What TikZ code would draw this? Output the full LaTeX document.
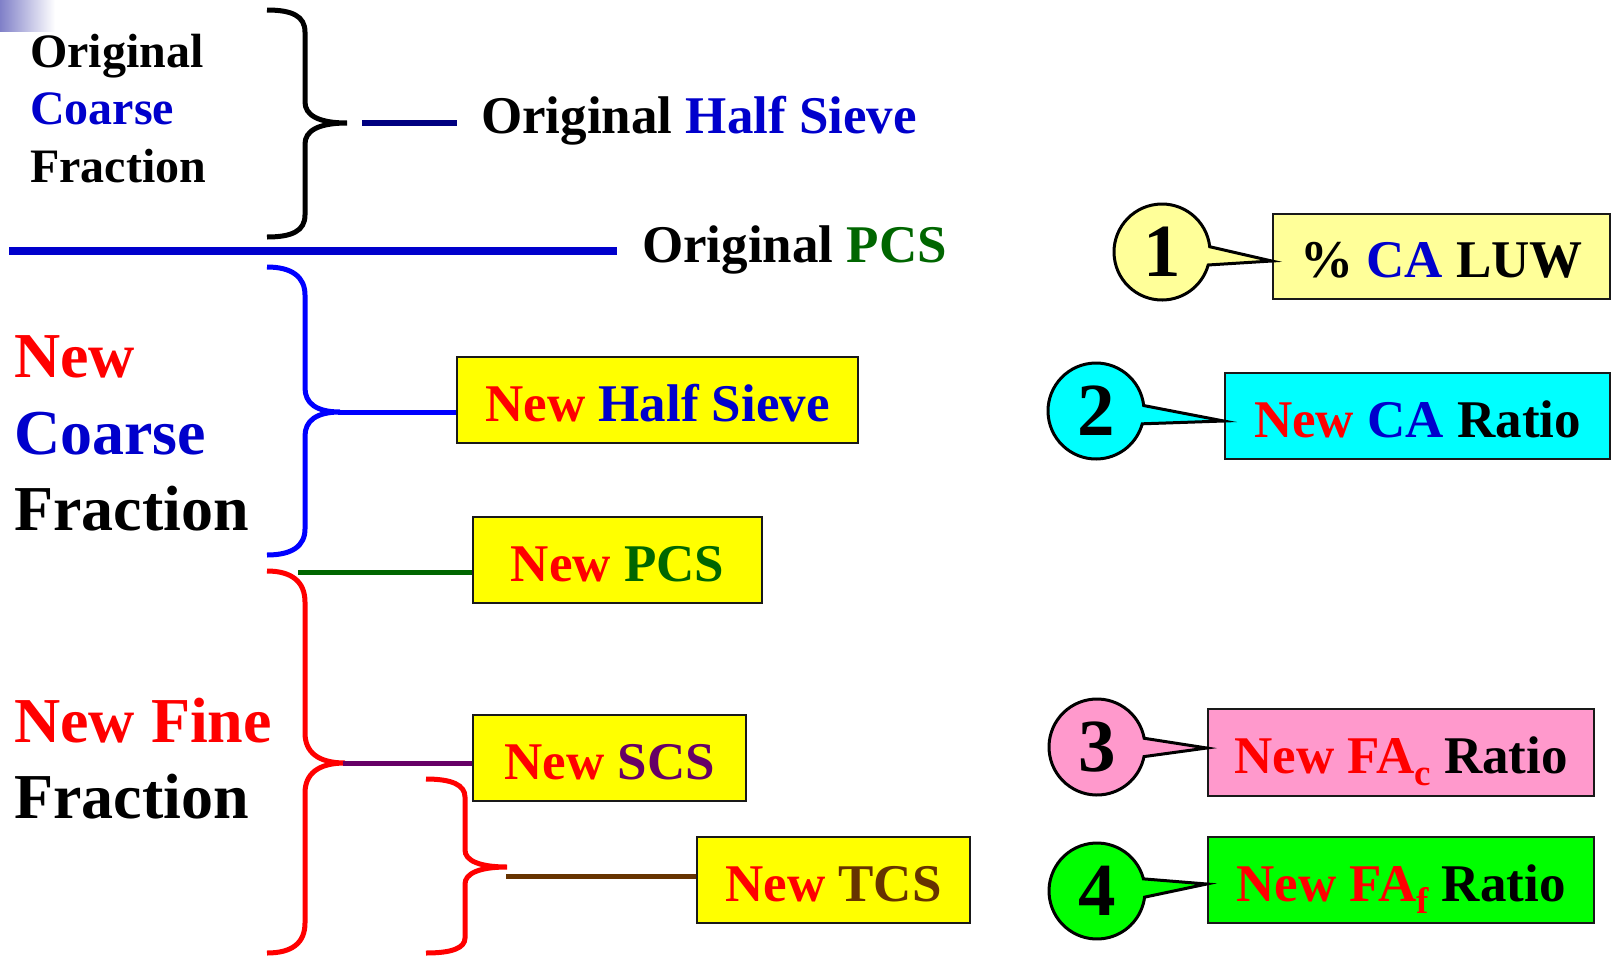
\documentclass[tikz,border=0pt]{standalone}
\usepackage{fontspec}
\setmainfont{Liberation Serif}
\usetikzlibrary{shapes.callouts,calc}
\definecolor{tblue}{HTML}{0000CC}
\definecolor{bblue}{HTML}{0000FF}
\definecolor{navy}{HTML}{000080}
\definecolor{dgreen}{HTML}{006600}
\definecolor{purp}{HTML}{660066}
\definecolor{brn}{HTML}{663300}
\definecolor{ylw}{HTML}{FFFF00}
\definecolor{lylw}{HTML}{FFFF99}
\definecolor{cyn}{HTML}{00FFFF}
\definecolor{pnk}{HTML}{FF99CC}
\definecolor{grn}{HTML}{00FF00}
\definecolor{redd}{HTML}{FF0000}
\newcommand\myfs[1]{\fontsize{#1}{#1}\selectfont\bfseries}
\tikzset{
  box/.style={draw=black!90, line width=2.5pt, fill=ylw, inner sep=0pt,
    text height=42pt, text depth=0pt, font=\myfs{53}, anchor=center,
    minimum height=86pt},
  bubble/.style={ellipse callout, draw=black, line width=3pt, inner sep=0pt,
    minimum size=96pt, callout pointer arc=22, font=\myfs{75}},
  lbl/.style={anchor=base west, inner sep=0pt},
  brace/.style={line width=5pt},
  link/.style={line width=5pt},
}
\begin{document}
\begin{tikzpicture}[x=1pt,y=-1pt]
\useasboundingbox (0,0) rectangle (1615,956);
% corner decoration
\shade[left color={rgb,255:red,128;green,128;blue,200}, right color=white] (0,0) rectangle (55,31);

% ---- top-left labels
\node[lbl, font=\myfs{48}] (o1) at (30,67) {Original};
\node[lbl, font=\myfs{48}, text=tblue] (o2) at (30,124) {Coarse};
\node[lbl, font=\myfs{48}] (o3) at (30,182) {Fraction};
\node[lbl, font=\myfs{53}] (ohs) at (481,133) {Original \textcolor{tblue}{Half Sieve}};
\node[lbl, font=\myfs{53}] (opcs) at (642,262) {Original \textcolor{dgreen}{PCS}};

% black brace
\draw[brace, black] (267,10) .. controls (292,10) and (305,16) .. (305,32)
  -- (305,102) .. controls (305,115) and (318,123) .. (347,123)
  .. controls (318,123) and (305,131) .. (305,144)
  -- (305,215) .. controls (305,231) and (292,237) .. (267,237);
\coordinate (nv0) at (362,123);
\coordinate (nv1) at (457,123);
\draw[navy, line width=6pt] (nv0) -- (nv1);

% thick blue line
\coordinate (bl0) at (9,251);
\coordinate (bl1) at (617,251);
\draw[tblue, line width=8pt] (bl0) -- (bl1);

% ---- New coarse fraction
\node[lbl, font=\myfs{64}, text=redd] (nc1) at (14,377) {New};
\node[lbl, font=\myfs{64}, text=tblue] (nc2) at (14,454) {Coarse};
\node[lbl, font=\myfs{64}] (nc3) at (14,530) {Fraction};

\draw[brace, bblue] (267,267) .. controls (292,267) and (305,277) .. (305,295)
  -- (305,388) .. controls (305,403) and (316,412) .. (340,412)
  .. controls (316,412) and (305,421) .. (305,436)
  -- (305,529) .. controls (305,546) and (292,555) .. (267,555);
\coordinate (tipB) at (338,412);

% ---- New fine fraction
\node[lbl, font=\myfs{64}, text=redd] (nf1) at (14,742) {New Fine};
\node[lbl, font=\myfs{64}] (nf2) at (14,818) {Fraction};

\draw[brace, redd] (267,571) .. controls (292,571) and (305,582) .. (305,602)
  -- (305,733) .. controls (305,752) and (318,763) .. (345,763)
  .. controls (318,763) and (305,774) .. (305,793)
  -- (305,923) .. controls (305,943) and (292,953) .. (267,953);
\coordinate (tipR) at (343,763);

\draw[brace, redd] (426,779) .. controls (452,779) and (465,785) .. (465,797)
  -- (465,850) .. controls (465,860) and (478,867) .. (507,867)
  .. controls (478,867) and (465,874) .. (465,884)
  -- (465,938) .. controls (465,948) and (452,953) .. (426,953);

% ---- yellow boxes
\node[box, minimum width=401pt] (bhs) at (657.5,400)
  {\textcolor{redd}{New} \textcolor{tblue}{Half Sieve}};
\node[box, minimum width=289pt] (bpcs) at (617.5,560)
  {\textcolor{redd}{New} \textcolor{dgreen}{PCS}};
\node[box, minimum width=273pt] (bscs) at (609.5,758)
  {\textcolor{redd}{New} \textcolor{purp}{SCS}};
\node[box, minimum width=273pt] (btcs) at (833.5,880)
  {\textcolor{redd}{New} \textcolor{brn}{TCS}};

% connectors
\draw[bblue, link] (tipB) -- (tipB -| bhs.west);
\coordinate (g0) at (298,572);
\draw[dgreen, link] (g0) -- (g0 -| bpcs.west);
\draw[purp, link] (tipR) -- (tipR -| bscs.west);
\coordinate (t0) at (506,876);
\draw[brn, link] (t0) -- (t0 -| btcs.west);

% ---- callouts
\node[box, fill=lylw, minimum width=337pt, minimum height=85pt] (b1) at (1441.5,256.5)
  {\% \textcolor{tblue}{CA} LUW};
\node[box, fill=cyn, minimum width=385pt] (b2) at (1417.5,416)
  {\textcolor{redd}{New} \textcolor{tblue}{CA} Ratio};
\node[box, fill=pnk, minimum width=386pt, minimum height=87pt] (b3) at (1401,752.5)
  {\textcolor{redd}{New FA\raisebox{-12pt}{\myfs{37}c}} Ratio};
\node[box, fill=grn, minimum width=386pt] (b4) at (1401,880)
  {\textcolor{redd}{New FA\raisebox{-12pt}{\myfs{37}f}} Ratio};

\node[bubble, fill=lylw, callout absolute pointer={($(b1.west)+(0,4.5)$)}] (c1) at (1162,252) {1};
\node[bubble, fill=cyn, callout absolute pointer={($(b2.west)+(0,5)$)}] (c2) at (1096,411) {2};
\node[bubble, fill=pnk, callout absolute pointer={($(b3.west)+(0,-4.5)$)}] (c3) at (1097,747) {3};
\node[bubble, fill=grn, callout absolute pointer={($(b4.west)+(0,4)$)}] (c4) at (1097,891) {4};
\end{tikzpicture}
\end{document}
